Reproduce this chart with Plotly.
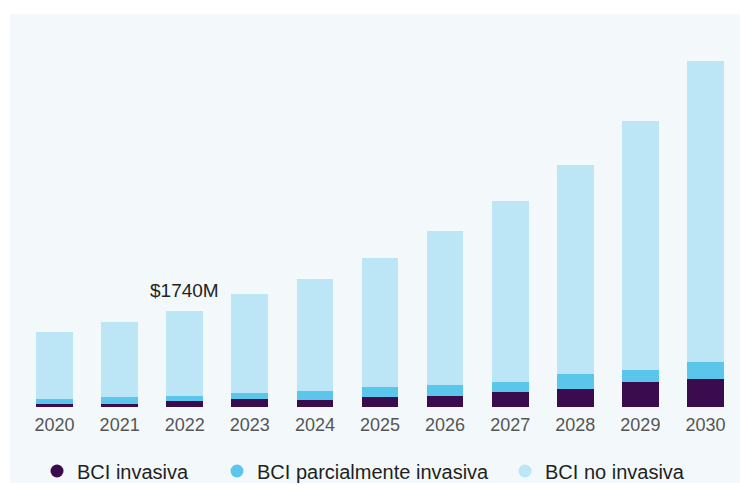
import plotly.graph_objects as go

years = ["2020", "2021", "2022", "2023", "2024", "2025", "2026", "2027", "2028", "2029", "2030"]
invasiva = [60, 60, 114, 140, 125, 181, 192, 265, 332, 453, 507]
parcial = [85, 114, 91, 120, 163, 181, 207, 194, 261, 223, 308]
no_invasiva = [1207, 1372, 1535, 1788, 2037, 2335, 2784, 3280, 3786, 4501, 5462]

series_names = ["BCI invasiva", "BCI parcialmente invasiva", "BCI no invasiva"]
series_values = [invasiva, parcial, no_invasiva]
colors = ["#3b0c4d", "#5ac6eb", "#bce6f6"]

label_year = "2022"
label_idx = years.index(label_year)
label_total = sum(v[label_idx] for v in series_values)
label_text = "$1740M"

FONT = "Arial, Liberation Sans, sans-serif"

# page geometry (px)
W, H = 740, 485
ML, MR, MT, MB = 22, 2, 40, 78
pw, ph = W - ML - MR, H - MT - MB

def px_x(x):
    return (x - ML) / pw

def px_y(y):
    return (H - MB - y) / ph

fig = go.Figure()

for name, vals, col in zip(series_names, series_values, colors):
    fig.add_trace(go.Bar(
        x=years, y=vals, name=name, marker=dict(color=col, line=dict(width=0)),
        showlegend=False, hoverinfo="x+y+name",
    ))

# circular legend keys, one legend per entry so each can be placed freely
legend_pos = [37, 217, 505]
for i, (name, col) in enumerate(zip(series_names, colors)):
    lg = "legend" if i == 0 else f"legend{i + 1}"
    fig.add_trace(go.Scatter(
        x=[years[0]], y=[None], mode="markers", name=name,
        marker=dict(symbol="circle", size=13, color=col),
        legend=lg, showlegend=True, hoverinfo="skip",
    ))

legend_common = dict(
    orientation="h", yanchor="middle", xanchor="left",
    xref="container", yref="container",
    bgcolor="rgba(0,0,0,0)", borderwidth=0,
    font=dict(family=FONT, size=20, color="#1f1f1f"),
)
layout_legends = {}
for i, x0 in enumerate(legend_pos):
    key = "legend" if i == 0 else f"legend{i + 1}"
    layout_legends[key] = dict(legend_common, x=x0 / W, y=1 - 471 / H)

fig.add_annotation(
    x=label_idx, y=label_total, text=label_text, showarrow=False,
    yanchor="bottom", yshift=8,
    font=dict(family=FONT, size=19, color="#222222"),
)

# light panel behind chart and legend
fig.add_shape(
    type="rect", xref="paper", yref="paper", layer="below",
    x0=px_x(10), x1=px_x(745), y0=px_y(483), y1=px_y(14),
    fillcolor="#f3f8fb", line=dict(width=0),
)

fig.update_layout(
    width=W, height=H,
    margin=dict(l=ML, r=MR, t=MT, b=MB, pad=0, autoexpand=False),
    barmode="stack", bargap=0.436,
    paper_bgcolor="white", plot_bgcolor="rgba(0,0,0,0)",
    font=dict(family=FONT),
    xaxis=dict(
        type="category", categoryorder="array", categoryarray=years,
        range=[-0.5, len(years) - 0.5],
        showgrid=False, zeroline=False, showline=False,
        ticks="", ticklabelstandoff=5,
        tickfont=dict(family=FONT, size=18, color="#555555"),
    ),
    yaxis=dict(
        range=[0, ph / (96 / 1740)], showgrid=False, zeroline=False,
        showline=False, showticklabels=False, ticks="",
    ),
    **layout_legends,
)

fig.write_html("out.html")
